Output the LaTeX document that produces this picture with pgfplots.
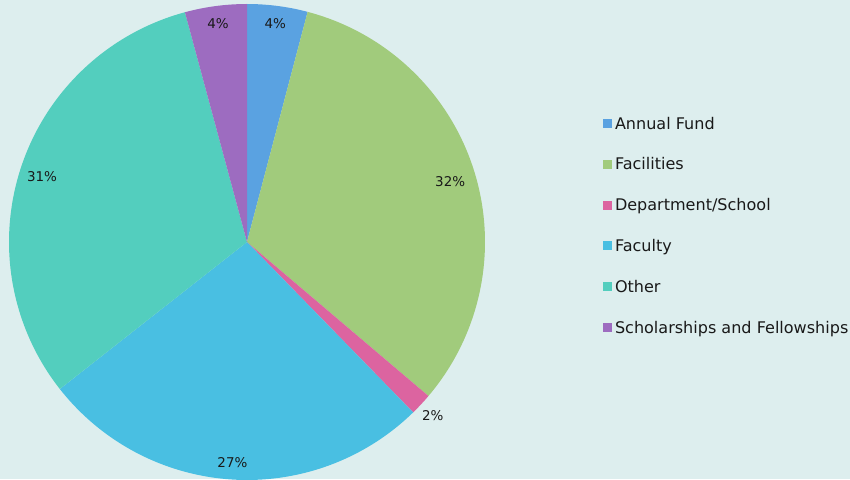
\documentclass[border=0pt]{standalone}
\usepackage{pgfplots}
\pgfplotsset{compat=1.18}
\usepackage{fontspec}
\setmainfont{DejaVu Sans}
\definecolor{bg}{RGB}{221,238,238}
\definecolor{cAnnual}{RGB}{90,162,225}
\definecolor{cFac}{RGB}{161,203,124}
\definecolor{cDept}{RGB}{220,100,160}
\definecolor{cFaculty}{RGB}{73,191,226}
\definecolor{cOther}{RGB}{83,206,190}
\definecolor{cSchol}{RGB}{157,108,192}
\definecolor{txt}{RGB}{25,25,25}
\newcommand{\lbl}{\fontsize{13.5}{16}\selectfont}
% #1 start (cumulative %), #2 end (cumulative %), #3 colour, #4 legend, #5 label, #6 label radius, #7 label y shift
\newcommand{\slice}[7]{%
  \addplot[fill=#3, draw=none, domain=(90-3.6*#2):(90-3.6*#1), samples=90]
    ({247+238*cos(x)},{237+238*sin(x)}) -- (axis cs:247,237) -- cycle;
  \addlegendentry{#4}
  \path (axis cs:247,237) ++({90-1.8*(#1+#2)}:#6bp) node[font=\lbl, text=txt, inner sep=0pt, yshift=#7bp]{#5};
}
\begin{document}
\begin{tikzpicture}
\fill[bg] (0,0) rectangle (850bp,479bp);
\begin{axis}[
  at={(0,0)}, anchor=south west,
  width=850bp, height=479bp, scale only axis,
  xmin=0, xmax=850, ymin=0, ymax=479,
  hide axis, clip=false,
  legend image code/.code={\fill[#1] (0bp,-3bp) rectangle (9bp,6bp); \path (12bp,0bp);},
  legend cell align=left,
  legend style={at={(axis cs:603,362)}, anchor=north west, draw=none, fill=none,
    inner sep=0pt, outer sep=0pt, font=\fontsize{16.1}{19}\selectfont, text=txt,
    row sep=24.8bp, column sep=0bp,
    nodes={inner sep=0pt, outer sep=0pt, text height=12bp, text depth=4bp}},
]
\slice{0}{4.1}{cAnnual}{Annual Fund}{4\%}{220}{0}
\slice{4.1}{36.2}{cFac}{Facilities}{32\%}{213}{-4}
\slice{36.2}{37.7}{cDept}{Department/School}{2\%}{254}{0}
\slice{37.7}{64.4}{cFaculty}{Faculty}{27\%}{221}{0}
\slice{64.4}{95.8}{cOther}{Other}{31\%}{216}{-3}
\slice{95.8}{100}{cSchol}{Scholarships and Fellowships}{4\%}{220}{0}
\end{axis}
\end{tikzpicture}
\end{document}
